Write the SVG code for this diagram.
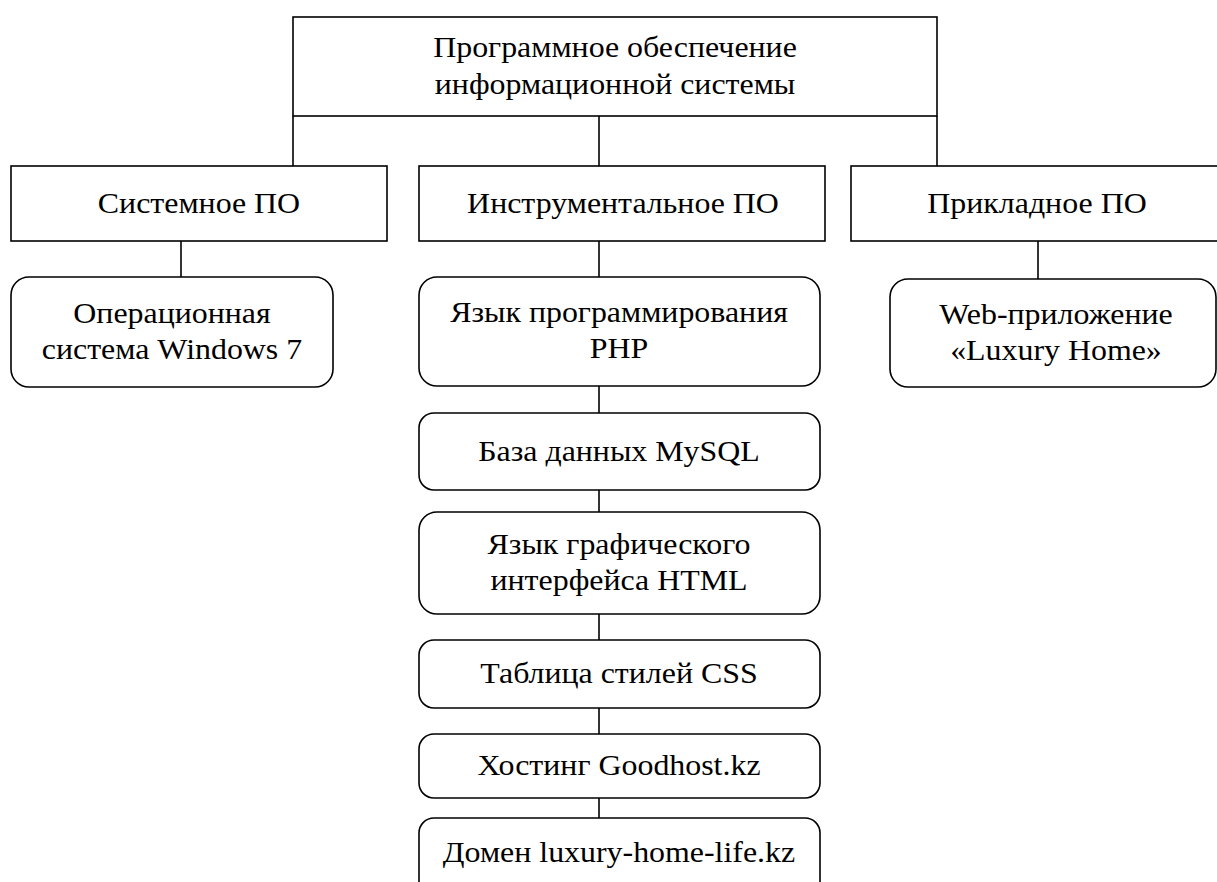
<svg xmlns="http://www.w3.org/2000/svg" width="1217" height="882" viewBox="0 0 1217 882">
<style>
.box{fill:#fff;stroke:#000;stroke-width:1.6}
.ln{stroke:#000;stroke-width:1.6;fill:none}
text{font-family:"Liberation Serif","Times New Roman",serif;font-size:29px;fill:#000;text-anchor:middle}
</style>
<rect width="1217" height="882" fill="#fff"/>
<g id="connectors">
<line class="ln" x1="293" y1="116" x2="293" y2="166"/>
<line class="ln" x1="599" y1="116" x2="599" y2="166"/>
<line class="ln" x1="937" y1="116" x2="937" y2="166"/>
<line class="ln" x1="181" y1="241" x2="181" y2="277"/>
<line class="ln" x1="599" y1="241" x2="599" y2="277"/>
<line class="ln" x1="1038" y1="241" x2="1038" y2="279"/>
<line class="ln" x1="599" y1="386" x2="599" y2="413"/>
<line class="ln" x1="599" y1="490" x2="599" y2="512"/>
<line class="ln" x1="599" y1="614" x2="599" y2="640"/>
<line class="ln" x1="599" y1="708" x2="599" y2="734"/>
<line class="ln" x1="599" y1="798" x2="599" y2="818"/>
</g>
<g id="root">
<rect class="box" x="293" y="17" width="644" height="99"/>
<text transform="matrix(1.1 0 0 1 615 57)">Программное обеспечение</text>
<text transform="matrix(1.1 0 0 1 615 94)">информационной системы</text>
</g>
<g id="sys">
<rect class="box" x="11" y="166" width="376" height="75"/>
<text transform="matrix(1.1 0 0 1 199 213)">Системное ПО</text>
</g>
<g id="instr">
<rect class="box" x="419" y="166" width="406" height="75"/>
<text transform="matrix(1.1 0 0 1 623 213)">Инструментальное ПО</text>
</g>
<g id="app">
<rect class="box" x="851" y="166" width="380" height="75"/>
<text transform="matrix(1.1 0 0 1 1037 213)">Прикладное ПО</text>
</g>
<g id="os">
<rect class="box" x="11" y="277" width="322" height="110" rx="18"/>
<text transform="matrix(1.1 0 0 1 172 323)">Операционная</text>
<text transform="matrix(1.1 0 0 1 172 359)">система Windows 7</text>
</g>
<g id="php">
<rect class="box" x="419" y="277" width="401" height="109" rx="18"/>
<text transform="matrix(1.1 0 0 1 619 322)">Язык программирования</text>
<text transform="matrix(1.1 0 0 1 619 358)">PHP</text>
</g>
<g id="web">
<rect class="box" x="890" y="279" width="326" height="108" rx="18"/>
<text transform="matrix(1.1 0 0 1 1056 324)">Web-приложение</text>
<text transform="matrix(1.1 0 0 1 1056 360)">«Luxury Home»</text>
</g>
<g id="mysql">
<rect class="box" x="419" y="413" width="401" height="77" rx="15"/>
<text transform="matrix(1.1 0 0 1 619 461)">База данных MySQL</text>
</g>
<g id="html">
<rect class="box" x="419" y="512" width="401" height="102" rx="18"/>
<text transform="matrix(1.1 0 0 1 619 554)">Язык графического</text>
<text transform="matrix(1.1 0 0 1 619 590)">интерфейса HTML</text>
</g>
<g id="css">
<rect class="box" x="419" y="640" width="401" height="68" rx="15"/>
<text transform="matrix(1.1 0 0 1 619 683)">Таблица стилей CSS</text>
</g>
<g id="host">
<rect class="box" x="419" y="734" width="401" height="64" rx="15"/>
<text transform="matrix(1.1 0 0 1 619 775)">Хостинг Goodhost.kz</text>
</g>
<g id="domain">
<rect class="box" x="419" y="818" width="401" height="90" rx="15"/>
<text transform="matrix(1.1 0 0 1 619 862)">Домен luxury-home-life.kz</text>
</g>
</svg>
